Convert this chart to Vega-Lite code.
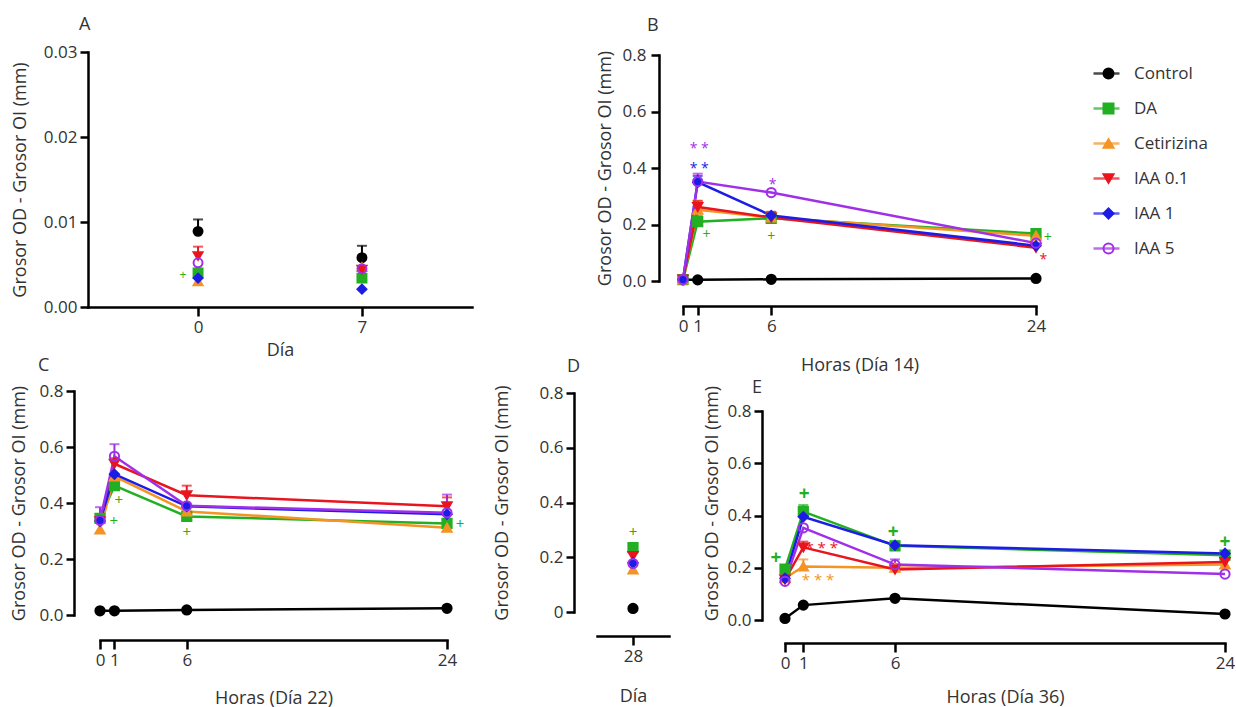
{
  "$schema": "https://vega.github.io/schema/vega-lite/v6.json",
  "background": "white",
  "padding": {"left": 10, "top": 16, "right": 0, "bottom": 0},
  "config": {
    "font": "Open Sans",
    "view": {"stroke": null},
    "axis": {"grid": false, "domainColor": "#000", "domainWidth": 2.5, "domainCap": "square", "tickColor": "#000", "tickWidth": 2.5, "tickSize": 8, "labelPadding": 3, "labelFont": "Open Sans", "labelFontSize": 17, "labelColor": "#333", "titleFont": "Open Sans", "titleFontSize": 18, "titleFontWeight": "normal", "titleColor": "#333", "labelFlush": false, "labelOverlap": false},
    "title": {"anchor": "start", "frame": "group", "fontSize": 18, "fontWeight": "normal", "color": "#333", "font": "Open Sans", "baseline": "alphabetic"}
  },
  "datasets": {
    "a": [
      {"group": "Control", "x": 0, "y": 0.0089, "hi": 0.0103},
      {"group": "Control", "x": 7, "y": 0.0058, "hi": 0.0072},
      {"group": "DA", "x": 0, "y": 0.0040},
      {"group": "DA", "x": 7, "y": 0.0034},
      {"group": "Cetirizina", "x": 0, "y": 0.0030},
      {"group": "Cetirizina", "x": 7, "y": 0.0047},
      {"group": "IAA 0.1", "x": 0, "y": 0.0060, "hi": 0.0071},
      {"group": "IAA 0.1", "x": 7, "y": 0.0044},
      {"group": "IAA 1", "x": 0, "y": 0.0034},
      {"group": "IAA 1", "x": 7, "y": 0.0021},
      {"group": "IAA 5", "x": 0, "y": 0.0052},
      {"group": "IAA 5", "x": 7, "y": 0.0045}
    ],
    "a_ann": [
      {"t": "+", "group": "DA", "x": -0.65, "y": 0.0038}
    ],
    "b": [
      {"group": "Control", "x": 0, "y": 0.004},
      {"group": "Control", "x": 1, "y": 0.004},
      {"group": "Control", "x": 6, "y": 0.006},
      {"group": "Control", "x": 24, "y": 0.009},
      {"group": "DA", "x": 0, "y": 0.005},
      {"group": "DA", "x": 1, "y": 0.210, "hi": 0.232},
      {"group": "DA", "x": 6, "y": 0.222, "hi": 0.243},
      {"group": "DA", "x": 24, "y": 0.168},
      {"group": "Cetirizina", "x": 0, "y": 0.005},
      {"group": "Cetirizina", "x": 1, "y": 0.252, "hi": 0.285},
      {"group": "Cetirizina", "x": 6, "y": 0.225},
      {"group": "Cetirizina", "x": 24, "y": 0.160},
      {"group": "IAA 0.1", "x": 0, "y": 0.005},
      {"group": "IAA 0.1", "x": 1, "y": 0.262, "hi": 0.283},
      {"group": "IAA 0.1", "x": 6, "y": 0.225, "hi": 0.245},
      {"group": "IAA 0.1", "x": 24, "y": 0.118},
      {"group": "IAA 1", "x": 0, "y": 0.005},
      {"group": "IAA 1", "x": 1, "y": 0.350, "hi": 0.372},
      {"group": "IAA 1", "x": 6, "y": 0.232},
      {"group": "IAA 1", "x": 24, "y": 0.125},
      {"group": "IAA 5", "x": 0, "y": 0.005},
      {"group": "IAA 5", "x": 1, "y": 0.352, "hi": 0.380},
      {"group": "IAA 5", "x": 6, "y": 0.313},
      {"group": "IAA 5", "x": 24, "y": 0.134}
    ],
    "b_ann": [
      {"t": "* *", "group": "IAA 5", "x": 1.1, "y": 0.48},
      {"t": "* *", "group": "IAA 1", "x": 1.1, "y": 0.41},
      {"t": "*", "group": "IAA 5", "x": 6.1, "y": 0.355},
      {"t": "*", "group": "IAA 0.1", "x": 24.5, "y": 0.09},
      {"t": "+", "group": "DA", "x": 1.6, "y": 0.163},
      {"t": "+", "group": "DA", "x": 6.0, "y": 0.157},
      {"t": "+", "group": "DA", "x": 24.8, "y": 0.152}
    ],
    "c": [
      {"group": "Control", "x": 0, "y": 0.015},
      {"group": "Control", "x": 1, "y": 0.015},
      {"group": "Control", "x": 6, "y": 0.018},
      {"group": "Control", "x": 24, "y": 0.024},
      {"group": "DA", "x": 0, "y": 0.345},
      {"group": "DA", "x": 1, "y": 0.462, "hi": 0.48},
      {"group": "DA", "x": 6, "y": 0.352},
      {"group": "DA", "x": 24, "y": 0.327},
      {"group": "Cetirizina", "x": 0, "y": 0.305},
      {"group": "Cetirizina", "x": 1, "y": 0.495},
      {"group": "Cetirizina", "x": 6, "y": 0.370},
      {"group": "Cetirizina", "x": 24, "y": 0.312},
      {"group": "IAA 0.1", "x": 0, "y": 0.335},
      {"group": "IAA 0.1", "x": 1, "y": 0.540, "hi": 0.56},
      {"group": "IAA 0.1", "x": 6, "y": 0.428, "hi": 0.462},
      {"group": "IAA 0.1", "x": 24, "y": 0.388, "hi": 0.42},
      {"group": "IAA 1", "x": 0, "y": 0.335},
      {"group": "IAA 1", "x": 1, "y": 0.503},
      {"group": "IAA 1", "x": 6, "y": 0.388},
      {"group": "IAA 1", "x": 24, "y": 0.360},
      {"group": "IAA 5", "x": 0, "y": 0.338, "hi": 0.385},
      {"group": "IAA 5", "x": 1, "y": 0.567, "hi": 0.61},
      {"group": "IAA 5", "x": 6, "y": 0.390},
      {"group": "IAA 5", "x": 24, "y": 0.365, "hi": 0.43}
    ],
    "c_ann": [
      {"t": "+", "group": "DA", "x": 0.95, "y": 0.337},
      {"t": "+", "group": "DA", "x": 1.3, "y": 0.41},
      {"t": "+", "group": "DA", "x": 6.0, "y": 0.295},
      {"t": "+", "group": "DA", "x": 24.9, "y": 0.325}
    ],
    "d": [
      {"group": "Control", "x": 28, "y": 0.013},
      {"group": "DA", "x": 28, "y": 0.235},
      {"group": "Cetirizina", "x": 28, "y": 0.155},
      {"group": "IAA 0.1", "x": 28, "y": 0.205},
      {"group": "IAA 1", "x": 28, "y": 0.180},
      {"group": "IAA 5", "x": 28, "y": 0.177}
    ],
    "d_ann": [
      {"t": "+", "group": "DA", "x": 28, "y": 0.292}
    ],
    "e": [
      {"group": "Control", "x": 0, "y": 0.006},
      {"group": "Control", "x": 1, "y": 0.057},
      {"group": "Control", "x": 6, "y": 0.083},
      {"group": "Control", "x": 24, "y": 0.023},
      {"group": "DA", "x": 0, "y": 0.195},
      {"group": "DA", "x": 1, "y": 0.415, "hi": 0.44},
      {"group": "DA", "x": 6, "y": 0.284, "hi": 0.30},
      {"group": "DA", "x": 24, "y": 0.248},
      {"group": "Cetirizina", "x": 0, "y": 0.160},
      {"group": "Cetirizina", "x": 1, "y": 0.205, "hi": 0.232},
      {"group": "Cetirizina", "x": 6, "y": 0.200},
      {"group": "Cetirizina", "x": 24, "y": 0.212},
      {"group": "IAA 0.1", "x": 0, "y": 0.155},
      {"group": "IAA 0.1", "x": 1, "y": 0.278, "hi": 0.30},
      {"group": "IAA 0.1", "x": 6, "y": 0.193},
      {"group": "IAA 0.1", "x": 24, "y": 0.222},
      {"group": "IAA 1", "x": 0, "y": 0.160},
      {"group": "IAA 1", "x": 1, "y": 0.395},
      {"group": "IAA 1", "x": 6, "y": 0.286},
      {"group": "IAA 1", "x": 24, "y": 0.255},
      {"group": "IAA 5", "x": 0, "y": 0.148},
      {"group": "IAA 5", "x": 1, "y": 0.353},
      {"group": "IAA 5", "x": 6, "y": 0.212, "hi": 0.232},
      {"group": "IAA 5", "x": 24, "y": 0.176}
    ],
    "e_ann": [
      {"t": "+", "group": "DA", "x": -0.5, "y": 0.236},
      {"t": "+", "group": "DA", "x": 1.05, "y": 0.482},
      {"t": "+", "group": "DA", "x": 5.9, "y": 0.338},
      {"t": "+", "group": "DA", "x": 24, "y": 0.30},
      {"t": "* * *", "group": "IAA 0.1", "x": 2.0, "y": 0.29},
      {"t": "* * *", "group": "Cetirizina", "x": 1.8, "y": 0.167}
    ]
  },
  "resolve": {"scale": {"color": "independent", "stroke": "independent", "fill": "independent", "shape": "independent"}},
  "bounds": "full",
  "spacing": -17,
  "vconcat": [
    {
      "bounds": "flush",
      "spacing": 211,
      "resolve": {"scale": {"color": "independent", "stroke": "independent", "fill": "independent", "shape": "independent"}},
      "hconcat": [
        {
          "width": 384, "height": 255,
          "title": {"text": "A", "dx": -9, "offset": 9},
          "data": {"name": "a"},
          "encoding": {
            "x": {"field": "x", "type": "quantitative", "scale": {"domain": [-4.7, 11.7], "nice": false, "zero": false}, "axis": {"values": [0, 7], "title": "Día", "titlePadding": 6, "tickSize": 9}},
            "y": {"field": "y", "type": "quantitative", "scale": {"domain": [0, 0.03], "nice": false}, "axis": {"values": [0, 0.01, 0.02, 0.03], "format": ".2f", "title": "Grosor OD - Grosor OI (mm)", "titlePadding": 14}}
          },
          "layer": [
            {"transform": [{"filter": "isValid(datum.hi)"}], "mark": {"type": "rule", "strokeWidth": 2}, "encoding": {"y2": {"field": "hi"}, "color": {"field": "group", "type": "nominal", "scale": {"domain": ["Control", "DA", "Cetirizina", "IAA 0.1", "IAA 1", "IAA 5"], "range": ["#000000", "#22B022", "#F39425", "#E8141E", "#1C1CE6", "#A030E8"]}, "legend": null}}},
            {"transform": [{"filter": "isValid(datum.hi)"}], "mark": {"type": "tick", "orient": "horizontal", "size": 10, "thickness": 2}, "encoding": {"y": {"field": "hi", "type": "quantitative"}, "color": {"field": "group", "type": "nominal", "scale": {"domain": ["Control", "DA", "Cetirizina", "IAA 0.1", "IAA 1", "IAA 5"], "range": ["#000000", "#22B022", "#F39425", "#E8141E", "#1C1CE6", "#A030E8"]}, "legend": null}}},
            {"mark": {"type": "point", "filled": true, "opacity": 1, "size": 80, "strokeWidth": 2}, "encoding": {
              "stroke": {"field": "group", "type": "nominal", "scale": {"domain": ["Control", "DA", "Cetirizina", "IAA 0.1", "IAA 1", "IAA 5"], "range": ["#000000", "#22B022", "#F39425", "#E8141E", "#1C1CE6", "#A030E8"]}, "legend": null},
              "fill": {"field": "group", "type": "nominal", "scale": {"domain": ["Control", "DA", "Cetirizina", "IAA 0.1", "IAA 1", "IAA 5"], "range": ["#000000", "#22B022", "#F39425", "#E8141E", "#1C1CE6", "transparent"]}, "legend": null},
              "shape": {"field": "group", "type": "nominal", "scale": {"domain": ["Control", "DA", "Cetirizina", "IAA 0.1", "IAA 1", "IAA 5"], "range": ["circle", "square", "triangle-up", "triangle-down", "diamond", "circle"]}, "legend": null}
            }},
            {"data": {"name": "a_ann"}, "mark": {"type": "text", "fontSize": 12, "baseline": "middle"}, "encoding": {"text": {"field": "t"}, "color": {"field": "group", "type": "nominal", "scale": {"domain": ["Control", "DA", "Cetirizina", "IAA 0.1", "IAA 1", "IAA 5"], "range": ["#000000", "#22B022", "#F39425", "#E8141E", "#1C1CE6", "#A030E8"]}, "legend": null}}}
          ]
        },
        {
          "width": 353, "height": 229,
          "title": {"text": "B", "dx": -36, "offset": 11},
          "data": {"name": "b"},
          "encoding": {
            "x": {"field": "x", "type": "quantitative", "scale": {"domain": [0, 24], "nice": false}, "axis": {"values": [0, 1, 6, 24], "title": "Horas (Día 14)", "offset": 25, "titlePadding": 22, "tickSize": 9}},
            "y": {"field": "y", "type": "quantitative", "scale": {"domain": [0, 0.8], "nice": false, "range": [229, 3]}, "axis": {"values": [0, 0.2, 0.4, 0.6, 0.8], "format": ".1f", "title": "Grosor OD - Grosor OI (mm)", "offset": 24, "titlePadding": 8, "labelPadding": 5}}
          },
          "layer": [
            {"mark": {"type": "line", "strokeWidth": 2.5}, "encoding": {"color": {"field": "group", "type": "nominal", "title": null, "scale": {"domain": ["Control", "DA", "Cetirizina", "IAA 0.1", "IAA 1", "IAA 5", "_"], "range": ["#000000", "#22B022", "#F39425", "#E8141E", "#1C1CE6", "#A030E8", "#ffffff"]},
              "legend": {"values": ["Control", "DA", "Cetirizina", "IAA 0.1", "IAA 1", "IAA 5"], "orient": "none", "legendX": 409, "legendY": 13, "padding": 0, "symbolType": "stroke", "symbolSize": 676, "symbolStrokeWidth": 2.5, "symbolOpacity": 1, "clipHeight": 17, "labelFont": "Open Sans", "labelFontSize": 17, "labelColor": "#333", "labelOffset": 13, "rowPadding": 17}}}},
            {"transform": [{"filter": "isValid(datum.hi)"}], "mark": {"type": "rule", "strokeWidth": 2}, "encoding": {"y2": {"field": "hi"}, "color": {"field": "group", "type": "nominal", "title": null, "scale": {"domain": ["Control", "DA", "Cetirizina", "IAA 0.1", "IAA 1", "IAA 5", "_"], "range": ["#000000", "#22B022", "#F39425", "#E8141E", "#1C1CE6", "#A030E8", "#ffffff"]}}}},
            {"transform": [{"filter": "isValid(datum.hi)"}], "mark": {"type": "tick", "orient": "horizontal", "size": 10, "thickness": 2}, "encoding": {"y": {"field": "hi", "type": "quantitative"}, "color": {"field": "group", "type": "nominal", "title": null, "scale": {"domain": ["Control", "DA", "Cetirizina", "IAA 0.1", "IAA 1", "IAA 5", "_"], "range": ["#000000", "#22B022", "#F39425", "#E8141E", "#1C1CE6", "#A030E8", "#ffffff"]}}}},
            {"mark": {"type": "point", "filled": true, "opacity": 1, "size": 85, "strokeWidth": 2}, "encoding": {
              "stroke": {"field": "group", "type": "nominal", "title": null, "scale": {"domain": ["Control", "DA", "Cetirizina", "IAA 0.1", "IAA 1", "IAA 5"], "range": ["#000000", "#22B022", "#F39425", "#E8141E", "#1C1CE6", "#A030E8"]},
                "legend": {"orient": "none", "legendX": 417, "legendY": 13, "padding": 0, "symbolSize": 100, "symbolStrokeWidth": 2, "symbolOpacity": 1, "clipHeight": 17, "labelExpr": "' '", "labelFontSize": 17, "labelOffset": 0, "rowPadding": 17}},
              "fill": {"field": "group", "type": "nominal", "title": null, "scale": {"domain": ["Control", "DA", "Cetirizina", "IAA 0.1", "IAA 1", "IAA 5"], "range": ["#000000", "#22B022", "#F39425", "#E8141E", "#1C1CE6", "transparent"]},
                "legend": {"orient": "none", "legendX": 417, "legendY": 13, "padding": 0, "symbolSize": 100, "symbolStrokeWidth": 2, "symbolOpacity": 1, "clipHeight": 17, "labelExpr": "' '", "labelFontSize": 17, "labelOffset": 0, "rowPadding": 17}},
              "shape": {"field": "group", "type": "nominal", "title": null, "scale": {"domain": ["Control", "DA", "Cetirizina", "IAA 0.1", "IAA 1", "IAA 5"], "range": ["circle", "square", "triangle-up", "triangle-down", "diamond", "circle"]},
                "legend": {"orient": "none", "legendX": 417, "legendY": 13, "padding": 0, "symbolSize": 100, "symbolStrokeWidth": 2, "symbolOpacity": 1, "clipHeight": 17, "labelExpr": "' '", "labelFontSize": 17, "labelOffset": 0, "rowPadding": 17}}
            }},
            {"data": {"name": "b_ann"}, "transform": [{"filter": "datum.t == '+'"}], "mark": {"type": "text", "fontSize": 14, "baseline": "middle"}, "encoding": {"text": {"field": "t"}, "color": {"field": "group", "type": "nominal", "title": null, "scale": {"domain": ["Control", "DA", "Cetirizina", "IAA 0.1", "IAA 1", "IAA 5", "_"], "range": ["#000000", "#22B022", "#F39425", "#E8141E", "#1C1CE6", "#A030E8", "#ffffff"]}}}},
            {"data": {"name": "b_ann"}, "transform": [{"filter": "datum.t != '+'"}], "mark": {"type": "text", "fontSize": 14, "baseline": "middle", "dy": 4}, "encoding": {"text": {"field": "t"}, "color": {"field": "group", "type": "nominal", "title": null, "scale": {"domain": ["Control", "DA", "Cetirizina", "IAA 0.1", "IAA 1", "IAA 5", "_"], "range": ["#000000", "#22B022", "#F39425", "#E8141E", "#1C1CE6", "#A030E8", "#ffffff"]}}}}
          ]
        }
      ]
    },
    {
      "bounds": "flush",
      "spacing": 150,
      "resolve": {"scale": {"color": "independent", "stroke": "independent", "fill": "independent", "shape": "independent"}},
      "hconcat": [
        {
          "width": 359, "height": 224,
          "title": {"text": "C", "dx": -50, "offset": 7},
          "data": {"name": "c"},
          "encoding": {
            "x": {"field": "x", "type": "quantitative", "scale": {"domain": [0, 24], "nice": false, "range": [12, 359]}, "axis": {"values": [0, 1, 6, 24], "title": "Horas (Día 22)", "offset": 25, "titlePadding": 21, "tickSize": 9}},
            "y": {"field": "y", "type": "quantitative", "scale": {"domain": [0, 0.8], "nice": false}, "axis": {"values": [0, 0.2, 0.4, 0.6, 0.8], "format": ".1f", "title": "Grosor OD - Grosor OI (mm)", "offset": 14, "titlePadding": 11}}
          },
          "layer": [
            {"mark": {"type": "line", "strokeWidth": 2.5}, "encoding": {"color": {"field": "group", "type": "nominal", "scale": {"domain": ["Control", "DA", "Cetirizina", "IAA 0.1", "IAA 1", "IAA 5"], "range": ["#000000", "#22B022", "#F39425", "#E8141E", "#1C1CE6", "#A030E8"]}, "legend": null}}},
            {"transform": [{"filter": "isValid(datum.hi)"}], "mark": {"type": "rule", "strokeWidth": 2}, "encoding": {"y2": {"field": "hi"}, "color": {"field": "group", "type": "nominal", "scale": {"domain": ["Control", "DA", "Cetirizina", "IAA 0.1", "IAA 1", "IAA 5"], "range": ["#000000", "#22B022", "#F39425", "#E8141E", "#1C1CE6", "#A030E8"]}, "legend": null}}},
            {"transform": [{"filter": "isValid(datum.hi)"}], "mark": {"type": "tick", "orient": "horizontal", "size": 10, "thickness": 2}, "encoding": {"y": {"field": "hi", "type": "quantitative"}, "color": {"field": "group", "type": "nominal", "scale": {"domain": ["Control", "DA", "Cetirizina", "IAA 0.1", "IAA 1", "IAA 5"], "range": ["#000000", "#22B022", "#F39425", "#E8141E", "#1C1CE6", "#A030E8"]}, "legend": null}}},
            {"mark": {"type": "point", "filled": true, "opacity": 1, "size": 85, "strokeWidth": 2}, "encoding": {
              "stroke": {"field": "group", "type": "nominal", "scale": {"domain": ["Control", "DA", "Cetirizina", "IAA 0.1", "IAA 1", "IAA 5"], "range": ["#000000", "#22B022", "#F39425", "#E8141E", "#1C1CE6", "#A030E8"]}, "legend": null},
              "fill": {"field": "group", "type": "nominal", "scale": {"domain": ["Control", "DA", "Cetirizina", "IAA 0.1", "IAA 1", "IAA 5"], "range": ["#000000", "#22B022", "#F39425", "#E8141E", "#1C1CE6", "transparent"]}, "legend": null},
              "shape": {"field": "group", "type": "nominal", "scale": {"domain": ["Control", "DA", "Cetirizina", "IAA 0.1", "IAA 1", "IAA 5"], "range": ["circle", "square", "triangle-up", "triangle-down", "diamond", "circle"]}, "legend": null}
            }},
            {"data": {"name": "c_ann"}, "mark": {"type": "text", "fontSize": 15, "baseline": "middle"}, "encoding": {"text": {"field": "t"}, "color": {"field": "group", "type": "nominal", "scale": {"domain": ["Control", "DA", "Cetirizina", "IAA 0.1", "IAA 1", "IAA 5"], "range": ["#000000", "#22B022", "#F39425", "#E8141E", "#1C1CE6", "#A030E8"]}, "legend": null}}}
          ]
        },
        {
          "bounds": "flush",
          "spacing": 116,
          "resolve": {"scale": {"color": "independent", "stroke": "independent", "fill": "independent", "shape": "independent"}},
          "hconcat": [
            {
              "width": 72, "height": 221,
              "title": {"text": "D", "dx": -30, "offset": 8},
              "data": {"name": "d"},
              "encoding": {
                "x": {"field": "x", "type": "quantitative", "scale": {"domain": [27, 29], "nice": false, "zero": false}, "axis": {"values": [28], "title": "Día", "offset": 24, "titlePadding": 23, "tickSize": 9}},
                "y": {"field": "y", "type": "quantitative", "scale": {"domain": [0, 0.8], "nice": false, "range": [221, 2]}, "axis": {"values": [0, 0.2, 0.4, 0.6, 0.8], "labelExpr": "datum.value == 0 ? '0' : format(datum.value, '.1f')", "title": "Grosor OD - Grosor OI (mm)", "offset": 23, "titlePadding": 28}}
              },
              "layer": [
                {"mark": {"type": "point", "filled": true, "opacity": 1, "size": 85, "strokeWidth": 2}, "encoding": {
                  "stroke": {"field": "group", "type": "nominal", "scale": {"domain": ["Control", "DA", "Cetirizina", "IAA 0.1", "IAA 1", "IAA 5"], "range": ["#000000", "#22B022", "#F39425", "#E8141E", "#1C1CE6", "#A030E8"]}, "legend": null},
                  "fill": {"field": "group", "type": "nominal", "scale": {"domain": ["Control", "DA", "Cetirizina", "IAA 0.1", "IAA 1", "IAA 5"], "range": ["#000000", "#22B022", "#F39425", "#E8141E", "#1C1CE6", "transparent"]}, "legend": null},
                  "shape": {"field": "group", "type": "nominal", "scale": {"domain": ["Control", "DA", "Cetirizina", "IAA 0.1", "IAA 1", "IAA 5"], "range": ["circle", "square", "triangle-up", "triangle-down", "diamond", "circle"]}, "legend": null}
                }},
                {"data": {"name": "d_ann"}, "mark": {"type": "text", "fontSize": 15, "baseline": "middle"}, "encoding": {"text": {"field": "t"}, "color": {"field": "group", "type": "nominal", "scale": {"domain": ["Control", "DA", "Cetirizina", "IAA 0.1", "IAA 1", "IAA 5"], "range": ["#000000", "#22B022", "#F39425", "#E8141E", "#1C1CE6", "#A030E8"]}, "legend": null}}}
              ]
            },
            {
              "width": 440, "height": 229,
              "title": {"text": "E", "dx": -33, "offset": -12},
              "data": {"name": "e"},
              "encoding": {
                "x": {"field": "x", "type": "quantitative", "scale": {"domain": [0, 24], "nice": false}, "axis": {"values": [0, 1, 6, 24], "title": "Horas (Día 36)", "offset": 23, "titlePadding": 17, "tickSize": 9}},
                "y": {"field": "y", "type": "quantitative", "scale": {"domain": [0, 0.8], "nice": false, "range": [229, 20]}, "axis": {"values": [0, 0.2, 0.4, 0.6, 0.8], "format": ".1f", "title": "Grosor OD - Grosor OI (mm)", "offset": 23, "titlePadding": 6, "titleY": 112}}
              },
              "layer": [
                {"mark": {"type": "line", "strokeWidth": 2.5}, "encoding": {"color": {"field": "group", "type": "nominal", "scale": {"domain": ["Control", "DA", "Cetirizina", "IAA 0.1", "IAA 1", "IAA 5"], "range": ["#000000", "#22B022", "#F39425", "#E8141E", "#1C1CE6", "#A030E8"]}, "legend": null}}},
                {"transform": [{"filter": "isValid(datum.hi)"}], "mark": {"type": "rule", "strokeWidth": 2}, "encoding": {"y2": {"field": "hi"}, "color": {"field": "group", "type": "nominal", "scale": {"domain": ["Control", "DA", "Cetirizina", "IAA 0.1", "IAA 1", "IAA 5"], "range": ["#000000", "#22B022", "#F39425", "#E8141E", "#1C1CE6", "#A030E8"]}, "legend": null}}},
                {"transform": [{"filter": "isValid(datum.hi)"}], "mark": {"type": "tick", "orient": "horizontal", "size": 10, "thickness": 2}, "encoding": {"y": {"field": "hi", "type": "quantitative"}, "color": {"field": "group", "type": "nominal", "scale": {"domain": ["Control", "DA", "Cetirizina", "IAA 0.1", "IAA 1", "IAA 5"], "range": ["#000000", "#22B022", "#F39425", "#E8141E", "#1C1CE6", "#A030E8"]}, "legend": null}}},
                {"mark": {"type": "point", "filled": true, "opacity": 1, "size": 85, "strokeWidth": 2}, "encoding": {
                  "stroke": {"field": "group", "type": "nominal", "scale": {"domain": ["Control", "DA", "Cetirizina", "IAA 0.1", "IAA 1", "IAA 5"], "range": ["#000000", "#22B022", "#F39425", "#E8141E", "#1C1CE6", "#A030E8"]}, "legend": null},
                  "fill": {"field": "group", "type": "nominal", "scale": {"domain": ["Control", "DA", "Cetirizina", "IAA 0.1", "IAA 1", "IAA 5"], "range": ["#000000", "#22B022", "#F39425", "#E8141E", "#1C1CE6", "transparent"]}, "legend": null},
                  "shape": {"field": "group", "type": "nominal", "scale": {"domain": ["Control", "DA", "Cetirizina", "IAA 0.1", "IAA 1", "IAA 5"], "range": ["circle", "square", "triangle-up", "triangle-down", "diamond", "circle"]}, "legend": null}
                }},
                {"data": {"name": "e_ann"}, "transform": [{"filter": "datum.t == '+'"}], "mark": {"type": "text", "fontSize": 19, "fontWeight": "bold", "baseline": "middle"}, "encoding": {"text": {"field": "t"}, "color": {"field": "group", "type": "nominal", "scale": {"domain": ["Control", "DA", "Cetirizina", "IAA 0.1", "IAA 1", "IAA 5"], "range": ["#000000", "#22B022", "#F39425", "#E8141E", "#1C1CE6", "#A030E8"]}, "legend": null}}},
                {"data": {"name": "e_ann"}, "transform": [{"filter": "datum.t != '+'"}], "mark": {"type": "text", "fontSize": 15, "baseline": "middle", "dy": 4}, "encoding": {"text": {"field": "t"}, "color": {"field": "group", "type": "nominal", "scale": {"domain": ["Control", "DA", "Cetirizina", "IAA 0.1", "IAA 1", "IAA 5"], "range": ["#000000", "#22B022", "#F39425", "#E8141E", "#1C1CE6", "#A030E8"]}, "legend": null}}}
              ]
            }
          ]
        }
      ]
    }
  ]
}
